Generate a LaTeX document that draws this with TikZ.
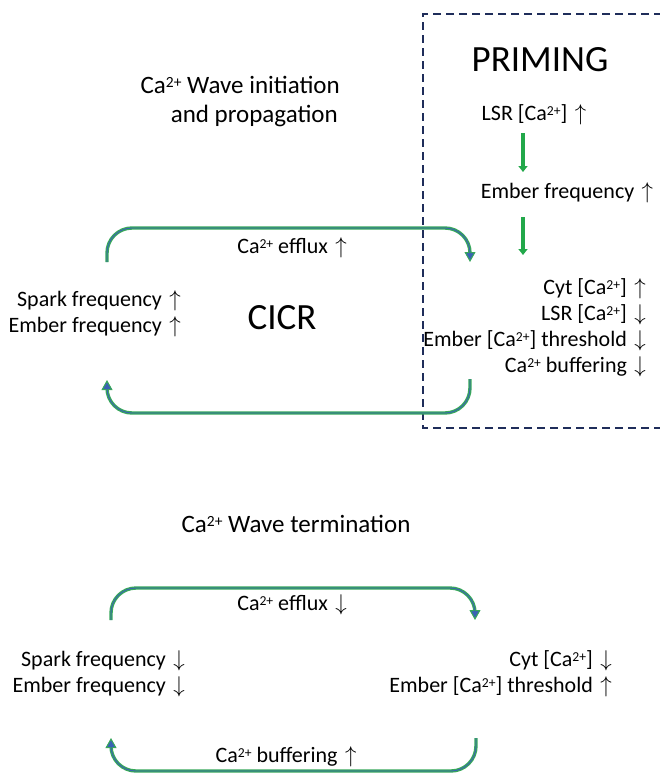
\documentclass[tikz,border=0pt]{standalone}
\usepackage{fontspec}
\setmainfont{Carlito}
\usetikzlibrary{arrows.meta}
\definecolor{loopG}{HTML}{38A85A}
\definecolor{loopB}{HTML}{3A62B4}
\definecolor{primG}{HTML}{22A84A}
\definecolor{boxN}{HTML}{1F2D5A}
\newcommand{\cats}{Ca\raisebox{0.5ex}{\scalebox{0.62}{2+}}}
\newcommand{\upa}{\hspace{2.5pt}\scalebox{1.1}{\(\uparrow\)}}
\newcommand{\dna}{\hspace{2.5pt}\scalebox{1.1}{\(\downarrow\)}}
\tikzset{
  lbl/.style={font=\fontsize{22}{26}\selectfont, inner sep=0pt},
  ttl/.style={font=\fontsize{25}{30}\selectfont, inner sep=0pt},
  big/.style={font=\fontsize{37}{40}\selectfont, inner sep=0pt},
  loop/.style={draw=loopG, line width=3.4pt, rounded corners=25pt,
    -{Triangle[length=10pt,width=11pt,fill=loopB,line width=1pt]},
    postaction={draw=loopB, line width=0.9pt, -, shorten >=9pt}},
  prim/.style={draw=primG, line width=3.2pt,
    -{Triangle[length=6pt,width=9pt]}},
  primbox/.style={draw=boxN, line width=1.3pt, dash pattern=on 8pt off 5pt}
}
\begin{document}
\begin{tikzpicture}[x=1pt,y=-1pt]
\useasboundingbox (0,0) rectangle (660,774);
% priming box
\draw[primbox] (662,14) -- (423,14) -- (423,428) -- (662,428);

% upper section texts
\node[ttl, anchor=mid east] (t1) at (340,91) {\cats{} Wave initiation};
\node[ttl, anchor=mid east] (t2) at (338,120) {and propagation};
\node[big] (priming) at (540,60) {PRIMING};
\node[big] (cicr) at (282,318) {CICR};
\node[lbl] (lsr) at (534,115) {LSR [\cats] \upa};
\node[lbl] (emb) at (567,193) {Ember frequency \upa};
\node[lbl, anchor=mid east] (r1) at (646,292) {Cyt [\cats] \upa};
\node[lbl, anchor=mid east] (r2) at (646,318) {LSR [\cats] \dna};
\node[lbl, anchor=mid east] (r3) at (646,344) {Ember [\cats] threshold \dna};
\node[lbl, anchor=mid east] (r4) at (646,370) {\cats{} buffering \dna};
\node[lbl, anchor=mid east] (l1) at (181,304) {Spark frequency \upa};
\node[lbl, anchor=mid east] (l2) at (181,330) {Ember frequency \upa};
\node[lbl] (eff1) at (292,248) {\cats{} efflux \upa};

\coordinate (a1) at (523,133);
\coordinate (a2) at (523,172);
\coordinate (a3) at (523,217);
\coordinate (a4) at (523,255);
\draw[prim] (a1) -- (a2);
\draw[prim] (a3) -- (a4);

\coordinate (u1s) at (107,262);
\coordinate (u1e) at (470,262);
\draw[loop] (u1s) -- (u1s |- 0,228) -- (u1e |- 0,228) -- (u1e);
\coordinate (u2s) at (470,379);
\coordinate (u2e) at (107,380);
\draw[loop] (u2s) -- (u2s |- 0,413) -- (u2e |- 0,413) -- (u2e);

% lower section
\node[ttl] (t3) at (296,524) {\cats{} Wave termination};
\node[lbl] (eff2) at (292,605) {\cats{} efflux \dna};
\node[lbl, anchor=mid east] (l3) at (185,664) {Spark frequency \dna};
\node[lbl, anchor=mid east] (l4) at (185,690) {Ember frequency \dna};
\node[lbl, anchor=mid east] (r5) at (612,664) {Cyt [\cats] \dna};
\node[lbl, anchor=mid east] (r6) at (612,690) {Ember [\cats] threshold \upa};
\node[lbl] (buf) at (286,757) {\cats{} buffering \upa};

\coordinate (d1s) at (111,620);
\coordinate (d1e) at (475,620);
\draw[loop] (d1s) -- (d1s |- 0,588) -- (d1e |- 0,588) -- (d1e);
\coordinate (d2s) at (476,738);
\coordinate (d2e) at (111,738);
\draw[loop] (d2s) -- (d2s |- 0,771) -- (d2e |- 0,771) -- (d2e);
\end{tikzpicture}
\end{document}
